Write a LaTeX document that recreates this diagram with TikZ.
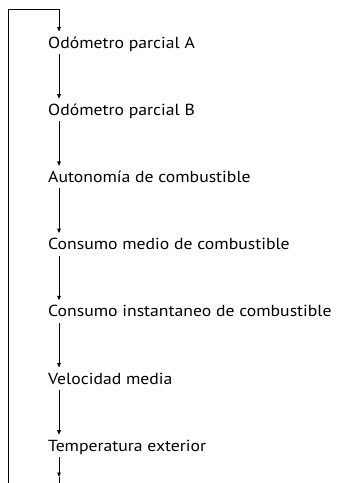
\documentclass[tikz,border=0pt]{standalone}
\usepackage{fontspec}
\setmainfont{PT Sans}[FakeStretch=1.105]
\usetikzlibrary{arrows.meta,calc}
\begin{document}
\begin{tikzpicture}[x=1pt,y=-1pt,
  item/.style={anchor=base west,inner sep=0pt,font=\fontsize{16}{19}\selectfont},
  conn/.style={line width=0.8pt},
  arr/.style={conn,-{Triangle[length=4.5pt,width=3.6pt]}}]
\useasboundingbox (0,0) rectangle (338,483);
\node[item] (t1) at (48,48.0) {Odómetro parcial A};
\node[item] (t2) at (48,115.2) {Odómetro parcial B};
\node[item] (t3) at (48,182.4) {Autonomía de combustible};
\node[item] (t4) at (48,249.6) {Consumo medio de combustible};
\node[item] (t5) at (48,316.8) {Consumo instantaneo de combustible};
\node[item] (t6) at (48,384.0) {Velocidad media};
\node[item] (t7) at (48,451.2) {Temperatura exterior};
\coordinate (top) at (59,9);
\coordinate (bl) at (8,483);
\coordinate (bend) at (59,477);
\coordinate (bout) at (59,483);
\draw[conn] (bl) |- (top);
\draw[arr] (top) -- ($(t1.base west)+(11,-16.5)$);
\foreach \a/\b in {t1/t2,t2/t3,t3/t4,t4/t5,t5/t6,t6/t7}
  \draw[arr] ($(\a.base west)+(11,6)$) -- ($(\b.base west)+(11,-16.5)$);
\draw[arr] ($(t7.base west)+(11,6)$) -- (bend);
\draw[conn] (bend) -- (bout);
\end{tikzpicture}
\end{document}
